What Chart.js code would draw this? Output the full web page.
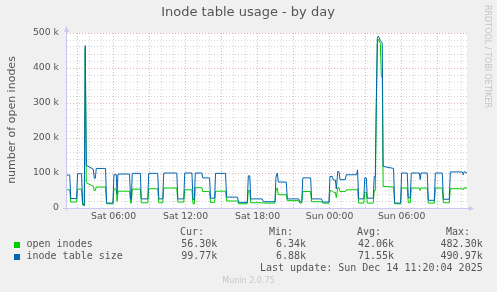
<!DOCTYPE html>
<html>
<head>
<meta charset="utf-8">
<script src="https://cdn.jsdelivr.net/npm/chart.js@4/dist/chart.umd.min.js"></script>
<style>
    html, body { margin: 0; padding: 0; background: #f0f0f0; }
    canvas { display: block; }
</style>
</head>
<body>
<canvas id="inode-chart" width="497" height="292"></canvas>
<script>
// Time in hours since Sat 00:00
const hours = [
    2.12, 2.35, 2.43, 2.92, 3.00, 3.33, 3.42, 3.56, 3.64, 3.73,
    4.31, 4.39, 4.48, 4.56, 5.33, 5.42, 5.95, 6.03, 6.23, 6.29,
    6.37, 7.33, 7.42, 7.48, 7.56, 8.23, 8.31, 8.85, 8.93, 9.68,
    9.77, 10.10, 10.18, 11.27, 11.35, 11.85, 11.93, 12.53, 12.62, 12.73,
    12.81, 13.35, 13.43, 14.00, 14.08, 14.42, 14.50, 15.33, 15.42, 16.33,
    16.42, 17.14, 17.23, 17.35, 17.43, 18.39, 18.48, 19.45, 19.53, 19.64,
    19.73, 20.39, 20.48, 21.43, 21.52, 21.68, 21.77, 22.42, 22.50, 23.33,
    23.42, 23.95, 24.03, 24.23, 24.31, 24.48, 24.56, 24.68, 24.78, 24.87,
    25.31, 25.39, 26.25, 26.33, 26.42, 26.85, 26.93, 27.06, 27.14, 27.64,
    27.72, 27.81, 27.89, 27.98, 28.06, 28.14, 28.23, 28.31, 28.39, 28.46,
    29.33, 29.42, 29.92, 30.00, 30.47, 30.56, 30.72, 30.81, 31.48, 31.55,
    31.62, 32.14, 32.23, 32.73, 32.81, 33.39, 33.48, 33.97, 34.06, 35.06,
    35.14, 35.22, 35.45
];

// inode table size (k)
const tableSize = [
    94, 94, 27, 27, 98, 98, 15, 7, 464, 122,
    111, 85, 85, 113, 113, 14, 14, 95, 95, 40,
    97, 97, 25, 25, 99, 99, 26, 26, 99, 99,
    26, 26, 100, 100, 26, 26, 100, 100, 24, 24,
    100, 100, 86, 86, 28, 28, 99, 99, 31, 31,
    16, 16, 92, 92, 26, 26, 18, 18, 88, 100,
    74, 74, 26, 26, 18, 18, 86, 86, 26, 26,
    17, 17, 90, 90, 80, 80, 55, 104, 104, 81,
    81, 95, 95, 109, 26, 26, 86, 86, 28, 28,
    90, 90, 300, 485, 491, 486, 478, 476, 470, 119,
    113, 14, 14, 100, 100, 29, 29, 100, 100, 81,
    100, 100, 22, 22, 100, 100, 25, 25, 103, 103,
    95, 104, 99.77
];

// open inodes (k)
const openInodes = [
    52, 52, 17, 17, 54, 54, 9, 6.5, 455, 72,
    62, 50, 50, 60, 60, 12, 12, 54, 54, 19,
    48, 48, 14, 14, 54, 54, 15, 15, 55, 55,
    15, 15, 57, 57, 17, 17, 52, 52, 12, 12,
    58, 58, 47, 47, 16, 16, 48, 48, 20, 20,
    12, 12, 50, 50, 15, 15, 14, 14, 50, 57,
    38, 38, 21, 21, 14, 14, 47, 47, 18, 18,
    14, 14, 50, 48, 45, 45, 30, 58, 58, 47,
    47, 52, 52, 55, 14, 14, 45, 45, 14, 14,
    50, 50, 280, 470, 482, 478, 470, 380, 370, 62,
    60, 12, 12, 57, 57, 15, 15, 57, 57, 50,
    57, 57, 14, 14, 57, 57, 15, 15, 55, 55,
    52, 58, 56.3
];

// Axis ticks and labels
const tickHours = [6, 12, 18, 24, 30];
const tickLabels = ['Sat 06:00', 'Sat 12:00', 'Sat 18:00', 'Sun 00:00', 'Sun 06:00'];
const valueTicks = [0, 100, 200, 300, 400, 500];
const valueLabels = ['0', '100 k', '200 k', '300 k', '400 k', '500 k'];

// Legend
const seriesNames = ['open inodes', 'inode table size'];
const statHeaders = ['Cur:', 'Min:', 'Avg:', 'Max:'];
const openStats = ['56.30k', '6.34k', '42.06k', '482.30k'];
const sizeStats = ['99.77k', '6.88k', '71.55k', '490.97k'];

const GREEN = '#00cc00';
const BLUE = '#0066b3';
const MAJOR = 'rgba(226, 150, 150, 0.75)';
const MINOR = 'rgba(200, 200, 200, 0.7)';
const AXIS = '#c8c8f0';
const TEXT = '#555555';

function toPoints(values) {
    return hours.map((h, i) => ({ x: h, y: values[i] }));
}

// Fondo blanco del área de datos, ejes y textos de munin
const muninPlugin = {
    id: 'munin',
    beforeDraw(chart) {
        const { ctx, chartArea: a } = chart;
        ctx.save();
        ctx.fillStyle = '#f0f0f0';
        ctx.fillRect(0, 0, chart.width, chart.height);
        ctx.fillStyle = '#ffffff';
        ctx.fillRect(a.left, a.top, a.right - a.left, a.bottom - a.top);
        ctx.restore();
    },
    beforeDatasetsDraw(chart) {
        const { ctx, chartArea: a } = chart;
        ctx.save();
        ctx.strokeStyle = AXIS;
        ctx.fillStyle = AXIS;
        ctx.lineWidth = 1;
        // y axis
        ctx.beginPath();
        ctx.moveTo(a.left - 0.5, a.bottom + 3);
        ctx.lineTo(a.left - 0.5, a.top - 3);
        ctx.stroke();
        ctx.beginPath();
        ctx.moveTo(a.left - 3, a.top - 1);
        ctx.lineTo(a.left + 2, a.top - 1);
        ctx.lineTo(a.left - 0.5, a.top - 7);
        ctx.closePath();
        ctx.fill();
        // x axis
        ctx.beginPath();
        ctx.moveTo(a.left - 4, a.bottom + 0.5);
        ctx.lineTo(a.right + 3, a.bottom + 0.5);
        ctx.stroke();
        ctx.beginPath();
        ctx.moveTo(a.right + 2, a.bottom - 2);
        ctx.lineTo(a.right + 2, a.bottom + 3);
        ctx.lineTo(a.right + 7, a.bottom + 0.5);
        ctx.closePath();
        ctx.fill();
        ctx.restore();
    },
    afterDraw(chart) {
        const { ctx } = chart;
        ctx.save();
        ctx.fillStyle = TEXT;
        ctx.textBaseline = 'middle';

        // Título
        ctx.font = '13px "DejaVu Sans"';
        ctx.textAlign = 'center';
        ctx.fillText('Inode table usage - by day', 248, 13);

        // Título del eje y
        ctx.save();
        ctx.translate(12, 120);
        ctx.rotate(-Math.PI / 2);
        ctx.font = '11px "DejaVu Sans"';
        ctx.fillText('number of open inodes', 0, 0);
        ctx.restore();

        // RRDTOOL / TOBI OETIKER
        ctx.save();
        ctx.translate(487, 5);
        ctx.rotate(Math.PI / 2);
        ctx.font = '8px "DejaVu Sans"';
        ctx.fillStyle = '#c4c4c4';
        ctx.textAlign = 'left';
        ctx.fillText('RRDTOOL / TOBI OETIKER', 0, 0);
        ctx.restore();

        // Leyenda con estadísticas
        ctx.font = '10px "DejaVu Sans Mono"';
        ctx.textAlign = 'right';
        const colEnds = [217.3, 306, 394, 482.7];
        const headerEnds = [204, 293, 381, 470];
        statHeaders.forEach((h, i) => ctx.fillText(h, headerEnds[i], 232.5));
        openStats.forEach((s, i) => ctx.fillText(s, colEnds[i], 244.5));
        sizeStats.forEach((s, i) => ctx.fillText(s, colEnds[i], 256.5));
        ctx.fillText('Last update: Sun Dec 14 11:20:04 2025', 482.7, 268.5);

        ctx.textAlign = 'left';
        ctx.fillText(seriesNames[0], 26.5, 244.5);
        ctx.fillText(seriesNames[1], 26.5, 256.5);
        ctx.fillStyle = GREEN;
        ctx.fillRect(14, 242, 6, 6);
        ctx.fillStyle = BLUE;
        ctx.fillRect(14, 254, 6, 6);

        ctx.font = '8px "DejaVu Sans"';
        ctx.fillStyle = '#c8c8c8';
        ctx.textAlign = 'center';
        ctx.fillText('Munin 2.0.75', 248.5, 281);
        ctx.restore();
    }
};

function initChart() {
    const ctx = document.getElementById('inode-chart').getContext('2d');
    new Chart(ctx, {
        type: 'line',
        data: {
            datasets: [{
                label: seriesNames[1],
                data: toPoints(tableSize),
                borderColor: BLUE,
                borderWidth: 1,
                pointRadius: 0,
                tension: 0,
                fill: false
            }, {
                label: seriesNames[0],
                data: toPoints(openInodes),
                borderColor: GREEN,
                borderWidth: 1,
                pointRadius: 0,
                tension: 0,
                fill: false
            }]
        },
        options: {
            responsive: false,
            animation: false,
            devicePixelRatio: 1,
            layout: { padding: { left: 0, top: 33, right: 30, bottom: 0 } },
            plugins: {
                legend: { display: false },
                tooltip: { enabled: false },
                title: { display: false }
            },
            scales: {
                x: {
                    type: 'linear',
                    min: 2.12,
                    max: 35.45,
                    afterBuildTicks: scale => {
                        const ticks = [];
                        for (let h = 3; h <= 35; h++) ticks.push({ value: h });
                        scale.ticks = ticks;
                    },
                    afterFit: scale => { scale.height = 84; },
                    grid: {
                        drawTicks: false,
                        lineWidth: 1,
                        color: c => (c.tick && c.tick.value % 3 === 0) ? MAJOR : MINOR
                    },
                    border: { display: false, dash: [1, 2] },
                    ticks: {
                        autoSkip: false,
                        maxRotation: 0,
                        padding: 3,
                        color: TEXT,
                        font: { family: 'DejaVu Sans', size: 9.3 },
                        callback: v => {
                            const i = tickHours.indexOf(v);
                            return i >= 0 ? tickLabels[i] : '';
                        }
                    }
                },
                y: {
                    type: 'linear',
                    min: 0,
                    max: 500,
                    afterBuildTicks: scale => {
                        const ticks = [];
                        for (let v = 0; v <= 500; v += 20) ticks.push({ value: v });
                        scale.ticks = ticks;
                    },
                    afterFit: scale => { scale.width = 67; },
                    grid: {
                        drawTicks: false,
                        lineWidth: 1,
                        color: c => (c.tick && c.tick.value % 100 === 0) ? MAJOR : MINOR
                    },
                    border: { display: false, dash: [1, 2] },
                    ticks: {
                        autoSkip: false,
                        padding: 8,
                        color: TEXT,
                        font: { family: 'DejaVu Sans', size: 9.3 },
                        callback: v => {
                            const i = valueTicks.indexOf(v);
                            return i >= 0 ? valueLabels[i] : '';
                        }
                    }
                }
            }
        },
        plugins: [muninPlugin]
    });
}

document.addEventListener('DOMContentLoaded', initChart);
</script>
</body>
</html>
